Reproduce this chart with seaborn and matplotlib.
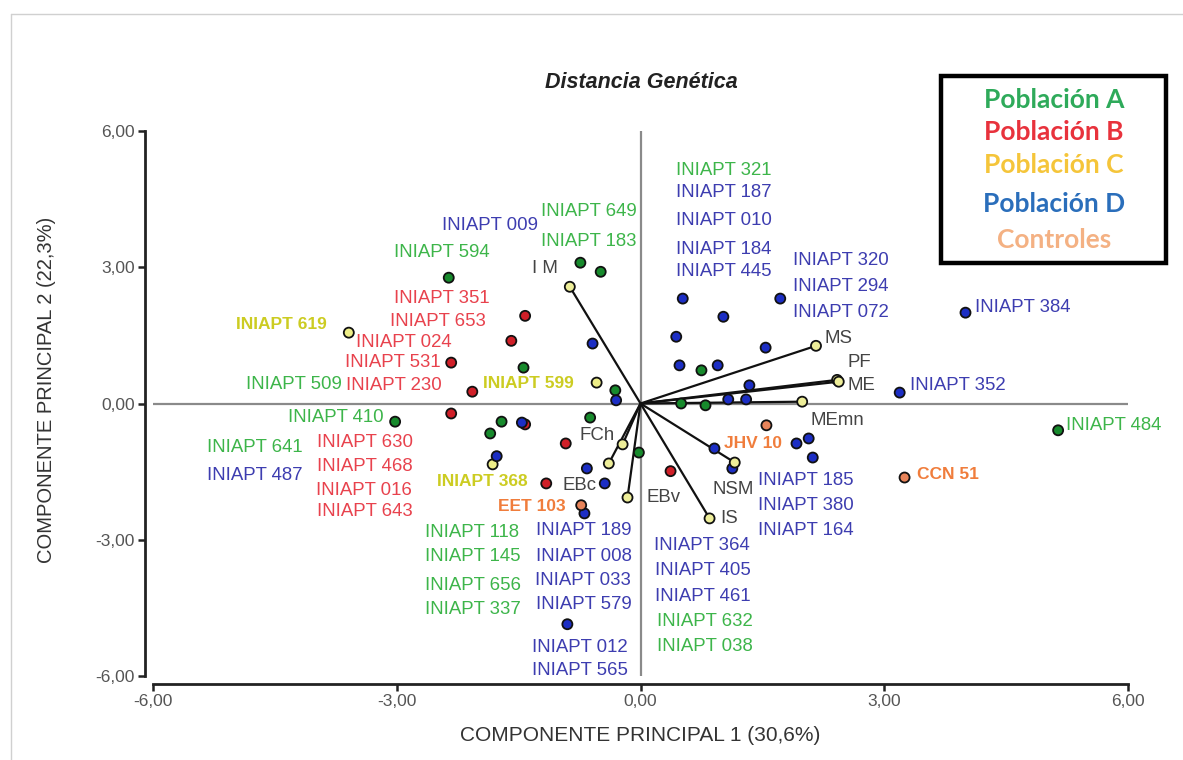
import matplotlib
matplotlib.use("Agg")
import matplotlib.pyplot as plt
import seaborn as sns
import pandas as pd
from matplotlib.lines import Line2D
from matplotlib.patches import Rectangle

# ---------------- data ----------------
popA_x = [-2.36, -0.74, -0.49, -1.44, -0.31, -3.02, -1.71, -0.62, -1.85, -0.02, 0.75, 0.50, 0.80, 5.14]
popA_y = [2.77, 3.10, 2.90, 0.79, 0.29, -0.40, -0.40, -0.31, -0.66, -1.08, 0.73, 0.00, -0.04, -0.59]

popB_x = [-1.42, -1.59, -2.33, -2.07, -2.33, -1.42, -0.92, -1.16, 0.37]
popB_y = [1.93, 1.38, 0.90, 0.26, -0.22, -0.46, -0.88, -1.76, -1.49]

popC_x = [-3.59, -0.54, -1.82]
popC_y = [1.56, 0.46, -1.34]

popD_x = [-0.59, -0.30, -1.46, -1.77, -0.66, -0.44, -0.69, -0.90, 0.52, 1.72, 1.02, 0.44, 1.54,
          0.48, 0.95, 1.34, 1.08, 1.30, 3.19, 4.00, 1.92, 2.07, 2.12, 0.91, 1.13]
popD_y = [1.32, 0.07, -0.42, -1.16, -1.43, -1.76, -2.42, -4.86, 2.31, 2.31, 1.91, 1.47, 1.23,
          0.84, 0.84, 0.40, 0.09, 0.09, 0.24, 2.00, -0.88, -0.77, -1.19, -0.99, -1.43]

ctrl_x = [-0.73, 1.55, 3.25]
ctrl_y = [-2.24, -0.48, -1.63]

vec_names = ["I M", "MS", "PF", "ME", "MEmn", "NSM", "IS", "EBv", "EBc", "FCh"]
vec_x = [-0.87, 2.16, 2.42, 2.44, 1.99, 1.16, 0.85, -0.16, -0.39, -0.22]
vec_y = [2.57, 1.27, 0.52, 0.48, 0.04, -1.30, -2.53, -2.07, -1.32, -0.90]
vec_lab_x = [-1.33, 2.26, 2.55, 2.55, 2.09, 0.89, 0.98, 0.07, -0.96, -0.75]
vec_lab_y = [2.97, 1.43, 0.90, 0.40, -0.37, -1.89, -2.53, -2.07, -1.80, -0.70]

labA_text = ["INIAPT 321", "INIAPT 649", "INIAPT 183", "INIAPT 594", "INIAPT 509", "INIAPT 410",
             "INIAPT 641", "INIAPT 118", "INIAPT 145", "INIAPT 656", "INIAPT 337", "INIAPT 632",
             "INIAPT 038", "INIAPT 484"]
labA_x = [0.44, -1.23, -1.23, -3.04, -4.86, -4.34, -5.33, -2.65, -2.65, -2.65, -2.65, 0.20, 0.20, 5.24]
labA_y = [5.12, 4.22, 3.56, 3.32, 0.42, -0.31, -0.97, -2.84, -3.36, -4.00, -4.53, -4.81, -5.36, -0.48]

labB_text = ["INIAPT 351", "INIAPT 653", "INIAPT 024", "INIAPT 531", "INIAPT 230", "INIAPT 630",
             "INIAPT 468", "INIAPT 016", "INIAPT 643"]
labB_x = [-3.04, -3.08, -3.50, -3.64, -3.63, -3.98, -3.98, -4.00, -3.98]
labB_y = [2.31, 1.80, 1.34, 0.90, 0.40, -0.86, -1.38, -1.91, -2.37]

labC_text = ["INIAPT 619", "INIAPT 599", "INIAPT 368"]
labC_x = [-4.98, -1.94, -2.51]
labC_y = [1.74, 0.44, -1.71]

labD_text = ["INIAPT 009", "INIAPT 187", "INIAPT 010", "INIAPT 184", "INIAPT 445", "INIAPT 320",
             "INIAPT 294", "INIAPT 072", "INIAPT 384", "INIAPT 352", "INIAPT 487", "INIAPT 185",
             "INIAPT 380", "INIAPT 164", "INIAPT 189", "INIAPT 008", "INIAPT 033", "INIAPT 579",
             "INIAPT 012", "INIAPT 565", "INIAPT 364", "INIAPT 405", "INIAPT 461"]
labD_x = [-2.44, 0.44, 0.44, 0.44, 0.44, 1.88, 1.88, 1.88, 4.12, 3.32, -5.33, 1.45,
          1.45, 1.45, -1.28, -1.28, -1.30, -1.28, -1.33, -1.33, 0.16, 0.18, 0.18]
labD_y = [3.91, 4.64, 4.04, 3.38, 2.90, 3.14, 2.57, 2.00, 2.11, 0.40, -1.58, -1.69,
          -2.24, -2.79, -2.79, -3.36, -3.89, -4.42, -5.38, -5.87, -3.12, -3.67, -4.26]

labE_text = ["EET 103", "JHV 10", "CCN 51"]
labE_x = [-1.76, 1.03, 3.40]
labE_y = [-2.26, -0.88, -1.56]

legend_names = ["Población A", "Población B", "Población C", "Población D", "Controles"]
ticks = [-6, -3, 0, 3, 6]
tick_labels = ["-6,00", "-3,00", "0,00", "3,00", "6,00"]

# ---------------- styling ----------------
sns.set_theme(style="white")
plt.rcParams['font.family'] = ['Liberation Sans', 'DejaVu Sans']

dot_colors = {"A": "#178a2c", "B": "#d01f28", "C": "#eeee88", "D": "#1c2ec4", "E": "#e8845a"}
txt_colors = {"A": "#3db54a", "B": "#e8424d", "C": "#cccc22", "D": "#3d3db0", "E": "#f07d3c"}
leg_colors = ["#2eaa5a", "#e8323c", "#f5c53a", "#2a6ebb", "#f4b183"]

fig = plt.figure(figsize=(11.83, 7.6), dpi=100)
ax = fig.add_axes([153 / 1183, 1 - 676 / 760, (1128 - 153) / 1183, (676 - 131) / 760])

ax.axhline(0, color="#8a8a8a", lw=1.6, zorder=1)
ax.axvline(0, color="#8a8a8a", lw=1.6, zorder=1)

# vectors
for vx, vy in zip(vec_x, vec_y):
    ax.plot([0, vx], [0, vy], color="#111111", lw=1.6, zorder=2)

frames = []
for key, xs, ys in [("A", popA_x, popA_y), ("B", popB_x, popB_y), ("C", popC_x, popC_y),
                    ("D", popD_x, popD_y), ("E", ctrl_x, ctrl_y)]:
    frames.append(pd.DataFrame({"x": xs, "y": ys, "grp": key}))
frames.append(pd.DataFrame({"x": vec_x, "y": vec_y, "grp": "V"}))
df = pd.concat(frames, ignore_index=True)
pal = dict(dot_colors)
pal["V"] = "#eeee99"
sns.scatterplot(data=df, x="x", y="y", hue="grp", palette=pal, s=52, edgecolor="#111111",
                linewidth=1.3, legend=False, ax=ax, zorder=3)

fs = 13.4
fs_bold = 12.5
for key, texts, xs, ys, bold in [("A", labA_text, labA_x, labA_y, False),
                                 ("B", labB_text, labB_x, labB_y, False),
                                 ("C", labC_text, labC_x, labC_y, True),
                                 ("D", labD_text, labD_x, labD_y, False),
                                 ("E", labE_text, labE_x, labE_y, True)]:
    for t, x, y in zip(texts, xs, ys):
        ax.text(x, y, t, color=txt_colors[key], fontsize=fs_bold if bold else fs,
                ha="left", va="center",
                fontweight="bold" if bold else "normal", zorder=4)
for t, x, y in zip(vec_names, vec_lab_x, vec_lab_y):
    ax.text(x, y, t, color="#444444", fontsize=fs, ha="left", va="center", zorder=4)

ax.set_xlim(-6, 6)
ax.set_ylim(-6, 6)
ax.set_xticks(ticks)
ax.set_xticklabels(tick_labels)
ax.set_yticks(ticks)
ax.set_yticklabels(tick_labels)
for s in ["top", "right"]:
    ax.spines[s].set_visible(False)
for s in ["left", "bottom"]:
    ax.spines[s].set_color("#222222")
    ax.spines[s].set_linewidth(2)
    ax.spines[s].set_position(("outward", 6))
ax.tick_params(axis="both", which="both", direction="out", length=5, width=1.8, color="#222222",
               labelsize=12.5, labelcolor="#555555", pad=2, bottom=True, left=True)
ax.set_facecolor("white")
ax.grid(False)

ax.set_xlabel("COMPONENTE PRINCIPAL 1 (30,6%)", fontsize=15, color="#333333", labelpad=12)
ax.set_ylabel("COMPONENTE PRINCIPAL 2 (22,3%)", fontsize=14.5, color="#333333")
ax.yaxis.set_label_coords(-0.099, 0.525)

fig.text(641 / 1183, 1 - 82 / 760, "Distancia Genética", ha="center", va="center", fontsize=15.5,
         fontweight="bold", fontstyle="italic", color="#222222")

# legend box
fig.add_artist(Rectangle((941 / 1183, 1 - 263 / 760), (1166 - 941) / 1183, (263 - 76) / 760,
                         transform=fig.transFigure, fill=False, edgecolor="#000000", lw=3.2))
leg_y = [100, 132, 165, 204, 240]
for name, c, yy in zip(legend_names, leg_colors, leg_y):
    fig.text(1054 / 1183, 1 - yy / 760, name, ha="center", va="center", fontsize=19,
             fontweight="bold", color=c, family=["Lato", "DejaVu Sans"])

# screenshot frame lines
fig.add_artist(Line2D([11 / 1183, 1], [1 - 14 / 760, 1 - 14 / 760], transform=fig.transFigure,
                      color="#d0d0d0", lw=1))
fig.add_artist(Line2D([11 / 1183, 11 / 1183], [0, 1 - 14 / 760], transform=fig.transFigure,
                      color="#d0d0d0", lw=1))

fig.savefig("out.png", dpi=100, facecolor="white")
